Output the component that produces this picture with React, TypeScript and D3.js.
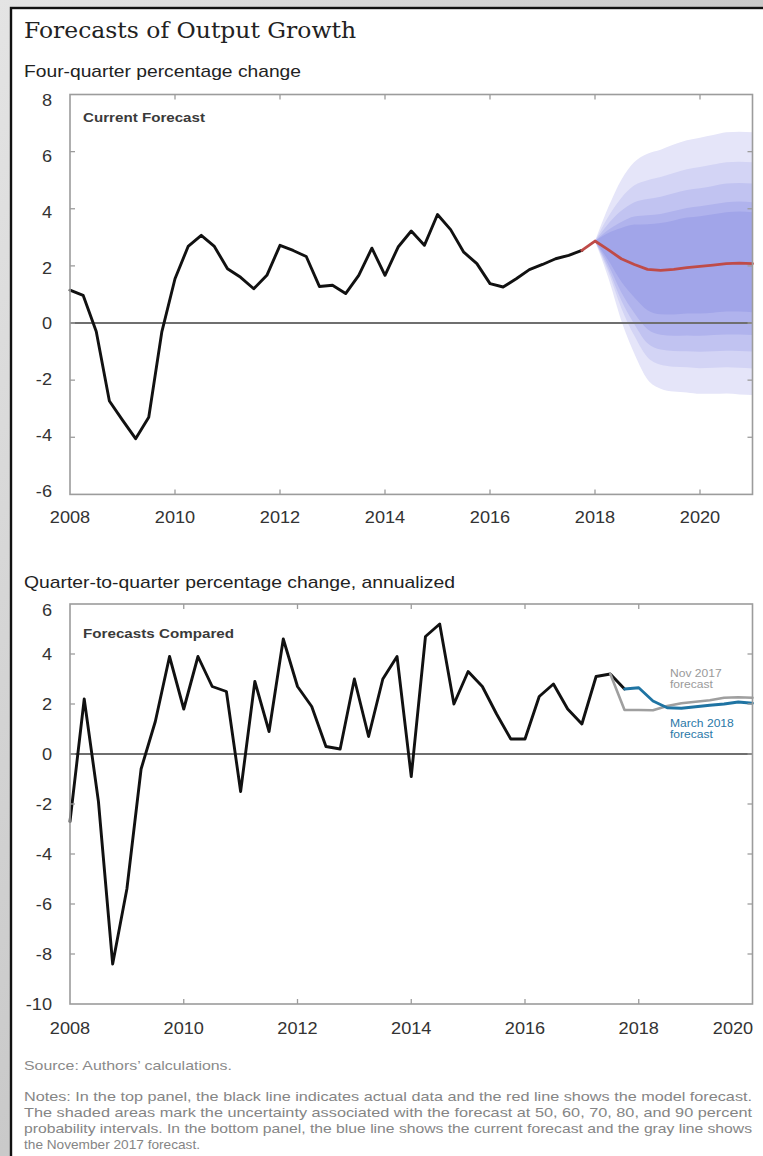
import React from 'react';
import * as d3 from 'd3';

// ---------- DATA ----------
const xTickYears = [2008, 2010, 2012, 2014, 2016, 2018, 2020];
const topYTicks = [8, 6, 4, 2, 0, -2, -4, -6];
const bottomYTicks = [6, 4, 2, 0, -2, -4, -6, -8, -10];

// Four-quarter percentage change, actual (2008Q1 - 2017Q4)
const topActualStart = 2008;
const topActual = [
  1.15, 0.97, -0.3, -2.73,
  -3.4, -4.05, -3.3, -0.3,
  1.55, 2.68, 3.07, 2.68,
  1.9, 1.6, 1.2, 1.67,
  2.72, 2.54, 2.33, 1.28,
  1.32, 1.03, 1.67, 2.62,
  1.67, 2.66, 3.22, 2.72,
  3.8, 3.27, 2.48, 2.08,
  1.38, 1.26, 1.55, 1.87,
  2.05, 2.25, 2.37, 2.54,
];
// Model forecast (2017Q4 - 2021Q1)
const topForecastStart = 2017.75;
const topForecast = [2.54, 2.87, 2.57, 2.25, 2.05, 1.88, 1.84, 1.88, 1.94, 1.98, 2.03, 2.08, 2.1, 2.08];

// Uncertainty bands (2018Q1 - 2021Q1)
const fanStart = 2018;
const fanUpper50 = [2.87, 3.15, 3.33, 3.45, 3.46, 3.5, 3.59, 3.69, 3.74, 3.81, 3.88, 3.9, 3.88];
const fanUpper60 = [2.87, 3.26, 3.54, 3.73, 3.77, 3.82, 3.92, 4.03, 4.09, 4.16, 4.23, 4.25, 4.23];
const fanUpper70 = [2.87, 3.47, 3.93, 4.23, 4.34, 4.42, 4.54, 4.66, 4.72, 4.8, 4.88, 4.9, 4.88];
const fanUpper80 = [2.87, 3.71, 4.38, 4.82, 5.0, 5.11, 5.25, 5.38, 5.46, 5.55, 5.63, 5.65, 5.63];
const fanUpper90 = [2.87, 4.04, 5.01, 5.64, 5.93, 6.07, 6.25, 6.4, 6.49, 6.58, 6.68, 6.7, 6.68];
const fanLower50 = [2.87, 2.21, 1.45, 0.89, 0.45, 0.31, 0.3, 0.33, 0.33, 0.36, 0.4, 0.4, 0.38];
const fanLower60 = [2.87, 2.05, 1.08, 0.35, -0.22, -0.41, -0.45, -0.44, -0.45, -0.42, -0.4, -0.4, -0.42];
const fanLower70 = [2.87, 1.92, 0.8, -0.04, -0.71, -0.93, -0.98, -0.99, -1.01, -0.99, -0.97, -0.98, -1.0];
const fanLower80 = [2.87, 1.8, 0.53, -0.45, -1.2, -1.46, -1.53, -1.55, -1.58, -1.57, -1.55, -1.57, -1.59];
const fanLower90 = [2.87, 1.6, 0.09, -1.08, -1.98, -2.3, -2.4, -2.43, -2.48, -2.48, -2.47, -2.5, -2.52];

// Quarter-to-quarter, annualized, actual (2008Q1 - 2017Q4)
const qoqStart = 2008;
const qoqActual = [
  -2.7, 2.2, -1.9, -8.4,
  -5.4, -0.6, 1.3, 3.9,
  1.8, 3.9, 2.7, 2.5,
  -1.5, 2.9, 0.9, 4.6,
  2.7, 1.9, 0.3, 0.2,
  3.0, 0.7, 3.0, 3.9,
  -0.9, 4.7, 5.2, 2.0,
  3.3, 2.7, 1.6, 0.6,
  0.6, 2.3, 2.8, 1.8,
  1.2, 3.1, 3.2, 2.6,
];
const nov2017Start = 2017.5;
const nov2017Forecast = [3.2, 1.76, 1.76, 1.75, 1.92, 2.03, 2.09, 2.15, 2.25, 2.27, 2.25];
const mar2018Start = 2017.75;
const mar2018Forecast = [2.6, 2.65, 2.12, 1.85, 1.83, 1.89, 1.95, 2.0, 2.08, 2.03];

const notesLines = [
  'Notes: In the top panel, the black line indicates actual data and the red line shows the model forecast.',
  'The shaded areas mark the uncertainty associated with the forecast at 50, 60, 70, 80, and 90 percent',
  'probability intervals. In the bottom panel, the blue line shows the current forecast and the gray line shows',
  'the November 2017 forecast.',
];

// ---------- STYLE ----------
const SANS = "'Liberation Sans', Arial, Helvetica, sans-serif";
const AXIS = '#9c9c9c';
const TXT = '#333';

function ST(props: any) {
  const { x, y, sx = 1.1, anchor = 'start', size = 16, fill = TXT, weight = 'normal', children } = props;
  return (
    <text
      transform={`translate(${x},${y}) scale(${sx},1)`}
      textAnchor={anchor}
      fontSize={size}
      fill={fill}
      fontWeight={weight}
      fontFamily={SANS}
    >
      {children}
    </text>
  );
}

const fanBands = [
  { upper: fanUpper90, lower: fanLower90, color: '#e5e5f9' },
  { upper: fanUpper80, lower: fanLower80, color: '#d3d4f5' },
  { upper: fanUpper70, lower: fanLower70, color: '#c1c3f1' },
  { upper: fanUpper60, lower: fanLower60, color: '#b0b3ed' },
  { upper: fanUpper50, lower: fanLower50, color: '#a1a5e9' },
];

function Frame(props: any) {
  const { x, y, xTicks, yTicks } = props;
  const [x0, x1] = x.range();
  const [y0, y1] = [y.range()[1], y.range()[0]];
  const t = 5;
  return (
    <g>
      <rect x={x0} y={y0} width={x1 - x0} height={y1 - y0} fill="none" stroke={AXIS} strokeWidth={1.6} />
      {xTicks.map((v: number) => (
        <g key={'xt' + v}>
          <line x1={x(v)} x2={x(v)} y1={y0} y2={y0 + t} stroke={AXIS} strokeWidth={1.3} />
          <line x1={x(v)} x2={x(v)} y1={y1} y2={y1 - t} stroke={AXIS} strokeWidth={1.3} />
        </g>
      ))}
      {yTicks.map((v: number) => (
        <g key={'yt' + v}>
          <line x1={x0} x2={x0 + t} y1={y(v)} y2={y(v)} stroke={AXIS} strokeWidth={1.3} />
          <line x1={x1} x2={x1 - t} y1={y(v)} y2={y(v)} stroke={AXIS} strokeWidth={1.3} />
        </g>
      ))}
    </g>
  );
}

export default function App() {
  // ----- top panel scales -----
  const xTop = d3.scaleLinear().domain([2008, 2021]).range([70, 752.5]);
  const yTop = d3.scaleLinear().domain([-6, 8]).range([494.4, 94.5]);
  const yTopLabel = d3.scaleLinear().domain([-6, 8]).range([491, 100]);

  // ----- bottom panel scales -----
  const xBot = d3.scaleLinear().domain([2008, 2020]).range([70, 752.5]);
  const yBot = d3.scaleLinear().domain([-10, 6]).range([1004, 604]);

  const lineFrom = (xs: any, ys: any, start: number) =>
    d3.line<number>().x((_, i) => xs(start + i * 0.25)).y((d) => ys(d));

  const topActualPath = lineFrom(xTop, yTop, topActualStart)(topActual) || '';
  const topForecastPath = lineFrom(xTop, yTop, topForecastStart)(topForecast) || '';
  const qoqPath = lineFrom(xBot, yBot, qoqStart)(qoqActual) || '';
  const novPath = lineFrom(xBot, yBot, nov2017Start)(nov2017Forecast) || '';
  const marPath = lineFrom(xBot, yBot, mar2018Start)(mar2018Forecast) || '';

  const fanArea = (upper: number[], lower: number[]) =>
    d3
      .area<number>()
      .curve(d3.curveMonotoneX)
      .x((_, i) => xTop(fanStart + i * 0.25))
      .y0((_, i) => yTop(lower[i]))
      .y1((_, i) => yTop(upper[i]))(upper) || '';

  const topXTicks = xTickYears.filter((v) => v > 2008 && v < 2021);
  const botXTicks = xTickYears.filter((v) => v > 2008 && v < 2020);
  const topYInner = topYTicks.filter((v) => v > -6 && v < 8);
  const botYInner = bottomYTicks.filter((v) => v > -10 && v < 6);

  return (
    <svg
      width={763}
      height={1156}
      style={{ position: 'absolute', left: 0, top: 0, display: 'block' }}
      xmlns="http://www.w3.org/2000/svg"
    >
      <defs>
        <linearGradient id="bg" x1="0" y1="0" x2="1" y2="1">
          <stop offset="0" stopColor="#e4e4e4" />
          <stop offset="0.5" stopColor="#c9c9c9" />
          <stop offset="1" stopColor="#dedede" />
        </linearGradient>
      </defs>
      <rect x={0} y={0} width={763} height={1156} fill="url(#bg)" />
      <rect x={11} y={8} width={770} height={1170} fill="#ffffff" stroke="#111" strokeWidth={2.4} />

      {/* Title */}
      <text x={24} y={38} fontFamily="'DejaVu Serif', 'Liberation Serif', serif" fontSize={22} fill="#222" textLength={332} lengthAdjust="spacingAndGlyphs">
        Forecasts of Output Growth
      </text>
      <text x={24} y={77} fontFamily={SANS} fontSize={17} fill="#222" textLength={277} lengthAdjust="spacingAndGlyphs">
        Four-quarter percentage change
      </text>

      {/* ---------- Top panel ---------- */}
      <rect x={70} y={94.5} width={682.5} height={399.9} fill="#fff" />
      {fanBands.map((b, i) => (
        <path key={'fan' + i} d={fanArea(b.upper, b.lower)} fill={b.color} stroke="none" />
      ))}
      <line x1={xTop(2008)} x2={xTop(2021)} y1={yTop(0)} y2={yTop(0)} stroke="#6f6f6f" strokeWidth={2.2} />
      <path d={topActualPath} fill="none" stroke="#111" strokeWidth={2.9} strokeLinejoin="round" strokeLinecap="round" />
      <path d={topForecastPath} fill="none" stroke="#bf4b48" strokeWidth={2.8} strokeLinejoin="round" strokeLinecap="round" />
      <Frame x={xTop} y={yTop} xTicks={topXTicks} yTicks={topYInner} />
      <text x={83} y={121.5} fontFamily={SANS} fontSize={13.5} fontWeight="bold" fill="#3a3a3a" textLength={122} lengthAdjust="spacingAndGlyphs">
        Current Forecast
      </text>
      {topYTicks.map((v) => (
        <ST key={'tyl' + v} x={52} y={yTopLabel(v) + 6} anchor="end" size={16.5}>
          {String(v)}
        </ST>
      ))}
      {xTickYears.map((v) => (
        <ST key={'txl' + v} x={xTop(v)} y={523} anchor="middle" size={16.5}>
          {String(v)}
        </ST>
      ))}

      {/* ---------- Bottom panel ---------- */}
      <text x={24} y={588} fontFamily={SANS} fontSize={17} fill="#222" textLength={431} lengthAdjust="spacingAndGlyphs">
        Quarter-to-quarter percentage change, annualized
      </text>
      <line x1={xBot(2008)} x2={xBot(2020)} y1={yBot(0)} y2={yBot(0)} stroke="#6f6f6f" strokeWidth={2.2} />
      <path d={qoqPath} fill="none" stroke="#111" strokeWidth={2.9} strokeLinejoin="round" strokeLinecap="round" />
      <path d={novPath} fill="none" stroke="#9f9f9f" strokeWidth={2.6} strokeLinejoin="round" strokeLinecap="round" />
      <path d={marPath} fill="none" stroke="#1f74a3" strokeWidth={2.8} strokeLinejoin="round" strokeLinecap="round" />
      <Frame x={xBot} y={yBot} xTicks={botXTicks} yTicks={botYInner} />
      <text x={83} y={637.5} fontFamily={SANS} fontSize={13.5} fontWeight="bold" fill="#3a3a3a" textLength={151} lengthAdjust="spacingAndGlyphs">
        Forecasts Compared
      </text>
      <ST x={670} y={677} size={11} fill="#9a9a9a">Nov 2017</ST>
      <ST x={670} y={688} size={11} fill="#9a9a9a">forecast</ST>
      <ST x={670} y={727} size={11} fill="#2a78a8">March 2018</ST>
      <ST x={670} y={738} size={11} fill="#2a78a8">forecast</ST>
      {bottomYTicks.map((v) => (
        <ST key={'byl' + v} x={52} y={Math.max(yBot(v), 610) + 6} anchor="end" size={16.5}>
          {String(v)}
        </ST>
      ))}
      {xTickYears.map((v) => (
        <ST key={'bxl' + v} x={Math.min(xBot(v), 733)} y={1034} anchor="middle" size={16.5}>
          {String(v)}
        </ST>
      ))}

      {/* ---------- Source & notes ---------- */}
      <text x={24} y={1070} fontFamily={SANS} fontSize={13} fill="#8a8a8a" textLength={208} lengthAdjust="spacingAndGlyphs">
        Source: Authors’ calculations.
      </text>
      {notesLines.map((line, i) => (
        <text
          key={'n' + i}
          x={24}
          y={1101 + i * 16}
          fontFamily={SANS}
          fontSize={13}
          fill="#858585"
          textLength={i < 3 ? 728 : 176}
          lengthAdjust="spacingAndGlyphs"
        >
          {line}
        </text>
      ))}
    </svg>
  );
}
